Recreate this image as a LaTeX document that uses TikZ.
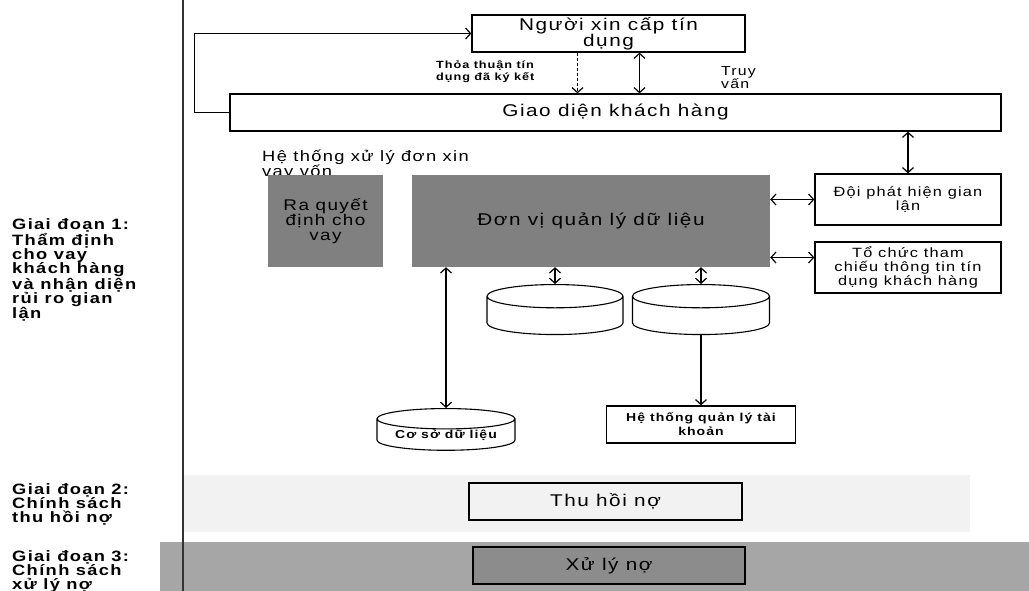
\documentclass[tikz,border=0pt]{standalone}
\usepackage{fontspec}
\setmainfont{Liberation Sans}[FakeStretch=1.22,LetterSpace=9]
\usetikzlibrary{arrows.meta,shapes.geometric}
\tikzset{
  box/.style={draw,line width=1.3pt,align=center,inner sep=0pt},
  shadebox/.style={fill=black!50,align=center,inner sep=0pt},
  db/.style={cylinder,shape border rotate=90,draw,line width=1.1pt,aspect=0.2,inner sep=0pt,anchor=north},
  link/.style={line width=1.2pt,-{Straight Barb[length=5pt,width=11pt]}},
  both/.style={line width=1.2pt,{Straight Barb[length=5pt,width=11pt]}-{Straight Barb[length=5pt,width=11pt]}},
  big/.style={font=\fontsize{17}{16}\selectfont},
  mid/.style={font=\fontsize{13.4}{14}\selectfont},
  tiny/.style={font=\bfseries\fontsize{10.4}{12}\selectfont},
  small/.style={font=\bfseries\fontsize{11.5}{14}\selectfont},
  stage/.style={font=\bfseries\fontsize{15}{14.3}\selectfont,align=left,anchor=west,inner sep=0pt},
  lbl/.style={align=left,anchor=west,inner sep=0pt},
}
\begin{document}
\begin{tikzpicture}[x=1pt,y=-1pt]
  \useasboundingbox (0,0) rectangle (1029,591);
  % --- bands of stages 2 and 3 ---
  \fill[black!5] (183,475) rectangle (970,532);
  \fill[black!35] (160,542) rectangle (1029,591);
  \draw[line width=1.2pt,black!80] (183,0) -- (183,591);
  % --- stage labels ---
  \node[stage] (s1) at (12,270) {Giai đoạn 1:\\Thẩm định\\cho vay\\khách hàng\\và nhận diện\\rủi ro gian\\lận};
  \node[stage] (s2) at (12,504.5) {Giai đoạn 2:\\Chính sách\\thu hồi nợ};
  \node[stage] (s3) at (12,571.5) {Giai đoạn 3:\\Chính sách\\xử lý nợ};
  % --- stage 1 ---
  \node[box,big,minimum width=273pt,minimum height=37pt] (nx) at (608.5,33.5) {\rule{0pt}{14pt}Người xin cấp tín\\dụng};
  \node[box,big,minimum width=771pt,minimum height=37pt] (gd) at (615.5,112.5) {Giao diện khách hàng};
  \node[lbl,tiny] (tt) at (436,72) {Thỏa thuận tín\\dụng đã ký kết};
  \node[lbl,font=\fontsize{13}{13}\selectfont] (tv) at (721,77.5) {Truy\\vấn};
  \node[lbl,font=\fontsize{15}{15}\selectfont] (hx) at (262,164.5) {Hệ thống xử lý đơn xin\\vay vốn};
  \node[shadebox,font=\fontsize{15.5}{15}\selectfont,minimum width=115pt,minimum height=92pt] (rq) at (325.5,221) {Ra quyết\\định cho\\vay};
  \node[shadebox,big,minimum width=358pt,minimum height=92pt] (dv) at (591,221) {Đơn vị quản lý dữ liệu};
  \node[box,mid,minimum width=186pt,minimum height=51pt] (dp) at (908,199.5) {Đội phát hiện gian\\lận};
  \node[box,mid,minimum width=186pt,minimum height=51pt] (tc) at (908,267.5) {Tổ chức tham\\chiếu thông tin tín\\dụng khách hàng};
  \node[db,small,aspect=1.1,minimum width=136pt,minimum height=50pt] (c1) at (555,284) {\phantom{Cơ}};
  \node[db,small,aspect=1.1,minimum width=137pt,minimum height=50pt] (c2) at (701,284) {\phantom{Cơ}};
  \node[db,small,minimum width=138pt,minimum height=30pt] (csdl) at (446,408) {Cơ sở dữ liệu};
  \node[box,small,minimum width=189pt,minimum height=37pt] (ht) at (701,424.5) {Hệ thống quản lý tài\\khoản};
  \draw[link] (gd.west) -- ++(-35,0) |- (nx.west);
  \draw[link,dash pattern=on 3pt off 2pt] ([xshift=-31pt]nx.south) -- ([xshift=-31pt]nx.south |- gd.north);
  \draw[both] ([xshift=31pt]nx.south) -- ([xshift=31pt]nx.south |- gd.north);
  \draw[both] (gd.south -| dp.north) -- (dp.north);
  \draw[both] (dv.east |- dp.west) -- (dp.west);
  \draw[both] ([yshift=10pt]tc.west -| dv.east) -- ([yshift=10pt]tc.west);
  \draw[both] (dv.south -| c1.north) -- (c1.north);
  \draw[both] (dv.south -| c2.north) -- (c2.north);
  \draw[both] (dv.south -| csdl.north) -- (csdl.north);
  \draw[link] (c2.south) -- (c2.south |- ht.north);
  % --- stages 2 and 3 ---
  \node[box,big,minimum width=273pt,minimum height=37pt] (th) at (605.5,501.5) {Thu hồi nợ};
  \node[box,big,fill=black!45,minimum width=272pt,minimum height=37pt] (xl) at (609,565.5) {Xử lý nợ};
\end{tikzpicture}
\end{document}
